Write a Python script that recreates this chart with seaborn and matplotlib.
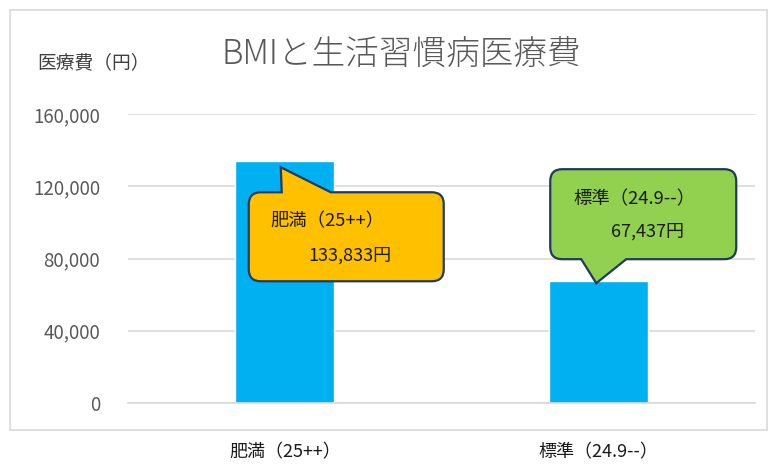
import matplotlib
matplotlib.use("Agg")
import matplotlib.pyplot as plt
import seaborn as sns
import pandas as pd
from matplotlib.path import Path
from matplotlib.patches import PathPatch, Rectangle
from matplotlib.transforms import IdentityTransform
from matplotlib.ticker import FuncFormatter

categories = ["肥満（25++）", "標準（24.9--）"]
values = [133833, 67437]
callout_titles = ["肥満（25++）", "標準（24.9--）"]
callout_colors = ["#FFC000", "#92D050"]
yticks = [0, 40000, 80000, 120000, 160000]

sns.set_theme(style="white")
plt.rcParams['font.family'] = ['Noto Sans CJK JP', 'DejaVu Sans']

DPI = 100
fig = plt.figure(figsize=(7.69, 4.66), dpi=DPI)
W, H = 769, 466
ax = fig.add_axes([128 / W, 1 - 403 / H, (755 - 128) / W, (403 - 114) / H])

df = pd.DataFrame({"cat": categories, "val": values})
sns.barplot(data=df, x="cat", y="val", color="#00B0F0", saturation=1,
            width=0.316, ax=ax)

ax.set_xlim(-0.5, 1.5)
ax.set_ylim(0, 160000)
ax.set_yticks(yticks)
ax.yaxis.set_major_formatter(FuncFormatter(lambda v, p: f"{int(v):,}"))
ax.set_xlabel("")
ax.set_ylabel("")
ax.grid(axis="y", color="#D9D9D9", linewidth=1.2)
ax.set_axisbelow(True)
for s in ["top", "right", "left"]:
    ax.spines[s].set_visible(False)
ax.spines["bottom"].set_color("#D9D9D9")
ax.spines["bottom"].set_linewidth(1.2)
ax.tick_params(axis="y", length=0, pad=20, labelsize=13.5, labelcolor="#595959")
ax.tick_params(axis="x", length=0, pad=29, labelsize=13, labelcolor="#1A1A1A")

# outer frame
fig.patches.append(Rectangle((10 / W, 1 - 430 / H), 757 / W, 420 / H,
                             transform=fig.transFigure, fill=False,
                             edgecolor="#D9D9D9", linewidth=1.2))

fig.text(222 / W, 1 - 55 / H, "BMIと生活習慣病医療費", fontsize=24.2,
         color="#595959", va="center", ha="left", fontweight="light")
fig.text(37 / W, 1 - 63 / H, "医療費（円）", fontsize=13.5,
         color="#404040", va="center", ha="left")

fig.canvas.draw()


def callout(tip, box, base, side, color):
    # all display coords (pixels, y up)
    x0, y0, x1, y1 = box
    xa, xb = base
    r = 12
    verts = []
    codes = []

    def mv(p):
        verts.append(p); codes.append(Path.MOVETO)

    def ln(p):
        verts.append(p); codes.append(Path.LINETO)

    def cv(c, p):
        verts.extend([c, p]); codes.extend([Path.CURVE3, Path.CURVE3])

    mv((x0 + r, y1))
    if side == "top":
        ln((xa, y1)); ln(tip); ln((xb, y1))
    ln((x1 - r, y1))
    cv((x1, y1), (x1, y1 - r))
    ln((x1, y0 + r))
    cv((x1, y0), (x1 - r, y0))
    if side == "bottom":
        ln((xb, y0)); ln(tip); ln((xa, y0))
    ln((x0 + r, y0))
    cv((x0, y0), (x0, y0 + r))
    ln((x0, y1 - r))
    cv((x0, y1), (x0 + r, y1))
    verts.append((x0 + r, y1)); codes.append(Path.CLOSEPOLY)
    p = PathPatch(Path(verts, codes), facecolor=color, edgecolor="#1F3A5F",
                  linewidth=1.6, transform=IdentityTransform(), zorder=5)
    fig.patches.append(p)


def px(xd, yd):
    return ax.transData.transform((xd, yd))

# callout 1 (tail up to top-left of first bar)
tx, ty = px(0, values[0])
tip1 = (tx - 4, ty - 6 * 1)
box1 = (tx - 36, ty - 120, tx + 159, ty - 31)
base1 = (tx - 3, tx + 46)
callout(tip1, box1, base1, "top", callout_colors[0])
fig.text(box1[0] + 22, box1[3] - 29, callout_titles[0], fontsize=13.2,
         color="#1A1A1A", va="center", ha="left", transform=IdentityTransform(), zorder=6)
fig.text(box1[0] + 60, box1[3] - 63, f"{values[0]:,}円", fontsize=13,
         color="#1A1A1A", va="center", ha="left", transform=IdentityTransform(), zorder=6)

# callout 2 (tail down to top of second bar)
tx, ty = px(1, values[1])
tip2 = (tx - 2, ty - 2)
box2 = (tx - 48, ty + 22, tx + 138, ty + 112)
base2 = (tx - 17, tx + 28)
callout(tip2, box2, base2, "bottom", callout_colors[1])
fig.text(box2[0] + 23, box2[3] - 30, callout_titles[1], fontsize=13.2,
         color="#1A1A1A", va="center", ha="left", transform=IdentityTransform(), zorder=6)
fig.text(box2[0] + 61, box2[3] - 62, f"{values[1]:,}円", fontsize=13,
         color="#1A1A1A", va="center", ha="left", transform=IdentityTransform(), zorder=6)

fig.savefig("out.png", dpi=DPI, facecolor="white")
